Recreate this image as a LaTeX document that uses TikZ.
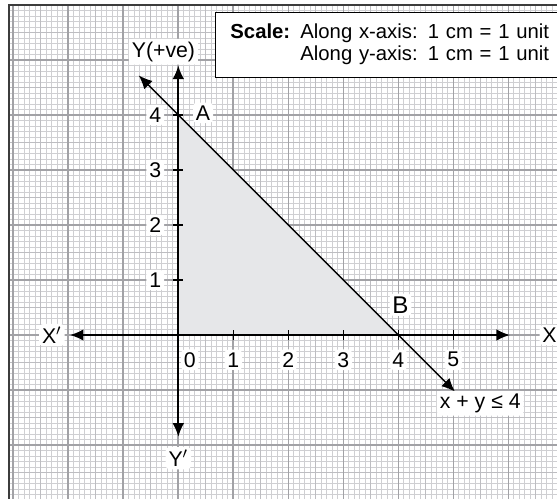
\documentclass[tikz,border=0pt]{standalone}
\usepackage{fontspec}
\setmainfont{Liberation Sans}
\usepackage{tikz}
\usetikzlibrary{arrows.meta}
\definecolor{gridminor}{HTML}{CFCFD2}
\definecolor{gridmid}{HTML}{BDBDC1}
\definecolor{gridmajor}{HTML}{A2A2A6}
\definecolor{regiongray}{HTML}{E6E7E9}
\definecolor{framegray}{HTML}{3C3C3C}
\tikzset{
  lbl/.style={fill=white,inner sep=1.5pt,rounded corners=2pt,font=\fontsize{11}{12}\selectfont},
  scalebox/.style={draw,fill=white,line width=0.6pt,text width=5.85cm,inner xsep=0.27cm,minimum height=1.19cm,align=left},
}

\begin{document}
\begin{tikzpicture}[>={Latex[length=7pt,width=6pt]},font=\fontsize{10.5}{11.4}\selectfont]
  \useasboundingbox (-3.242,-2.964) rectangle (6.885,6.091);
  % graph paper
  \begin{scope}
    \clip (-3.08,-3.2) rectangle (7,6);
    \draw[gridminor,line width=0.5pt] (-3.1,-3.1) grid[step=0.1] (7,6.1);
    \draw[gridmid,line width=0.55pt] (-3.5,-3.5) grid[step=0.5] (7,6.5);
    \draw[gridmajor,line width=0.85pt] (-4,-4) grid[step=1] (7,7);
  \end{scope}
  \draw[framegray,line width=1.4pt] (-3.08,-3.2) -- (-3.08,6) -- (7,6);
  \fill[regiongray] (0,0) -- (4,0) -- (0,4) -- cycle;
  \foreach \x in {1,...,5} {
    \draw[line width=0.7pt] (\x,-0.09) -- (\x,0.09);
    \node[lbl] (xt\x) at (\x,-0.45) {\x};
  }
  \node[lbl] (xt0) at (0.21,-0.45) {0};
  \foreach \y in {1,...,4} {
    \draw[line width=0.7pt] (-0.09,\y) -- (0.09,\y);
    \node[lbl] (yt\y) at (-0.42,\y) {\y};
  }
  \coordinate (xl) at (-1.97,0);
  \coordinate (xr) at (6.03,0);
  \coordinate (yb) at (0,-1.85);
  \coordinate (yt) at (0,4.9);
  \draw[<->,line width=1pt] (xl) -- (xr);
  \draw[<->,line width=1pt] (yb) -- (yt);
  \coordinate (lt) at (-0.72,4.72);
  \coordinate (lb) at (5.03,-1.03);
  \draw[<->,line width=0.7pt] (lt) -- (lb);
  \node[lbl] (xneg) at (-2.3,0) {X$'$};
  \node[lbl] (xpos) at (6.75,0) {X};
  \node[lbl] (ypos) at (-0.27,5.15) {Y(+ve)};
  \node[lbl] (yneg) at (0,-2.24) {Y$'$};
  \node[lbl] (ptA) at (0.45,4.04) {A};
  \node[lbl,font=\fontsize{12.5}{13}\selectfont] (ptB) at (4.04,0.55) {B};
  \node[lbl] (ineq) at (5.49,-1.24) {x + y ≤ 4};
  \node[scalebox,anchor=north west] (scale) at (0.667,5.878) {\begin{tabular}{@{}l@{ }l@{}}\textbf{Scale:} & Along x-axis: 1 cm = 1 unit\\ & Along y-axis: 1 cm = 1 unit\end{tabular}};
\end{tikzpicture}
\end{document}
